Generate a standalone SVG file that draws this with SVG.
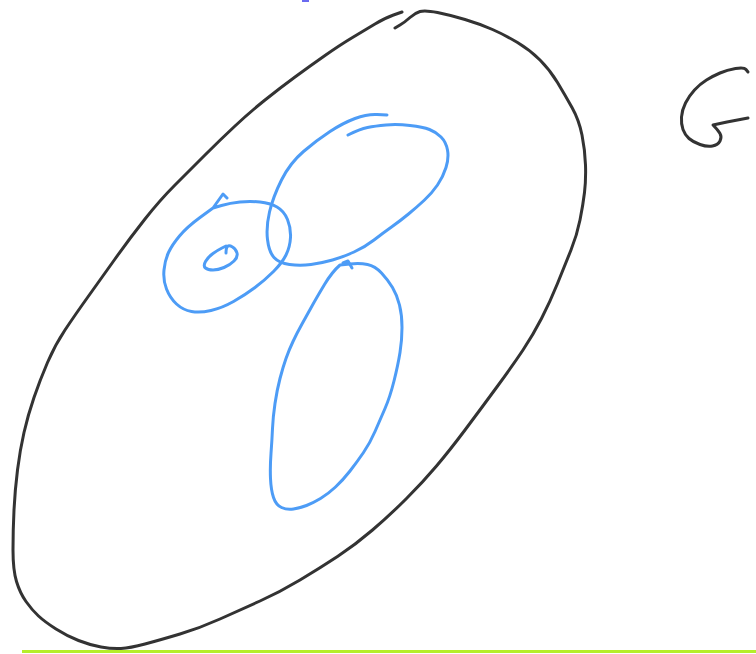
<svg xmlns="http://www.w3.org/2000/svg" width="756" height="654" viewBox="0 0 756 654">
<style>
.ink{fill:none;stroke-linecap:round;stroke-linejoin:round}
.blk{stroke:#333;stroke-width:3}
.blu{stroke:#4d9cf6;stroke-width:3}
</style>
<rect width="756" height="654" fill="#fff"/>
<rect x="302" y="0" width="7" height="2" fill="#6a6af0"/>
<g id="outer">
<path class="ink blk" d="M402,12 L393.5,15 Q385,18 375,24 Q365,30 352.5,37.5 Q340,45 325,55.5 Q310,66 295,77 Q280,88 265,100 Q250,112 235,126 Q220,140 205,155 Q190,170 175,185 Q160,200 145,219 Q130,238 115,259 Q100,280 87.5,297.5 Q75,315 65,330 Q55,345 47.5,362.5 Q40,380 34,397.5 Q28,415 24,432.5 Q20,450 17.5,470 Q15,490 14,510 Q13,530 13,550 Q13,570 16.5,581.5 Q20,593 26,601.5 Q32,610 38.5,616 Q45,622 56,629 Q67,636 78.5,640.5 Q90,645 101,647 Q112,649 121,648.5 Q130,648 145,644 Q160,640 180,634 Q200,628 220,619 Q240,610 260,601 Q280,592 300,580 Q320,568 337.5,556.5 Q355,545 372.5,530 Q390,515 406.5,498.5 Q423,482 436.5,466 Q450,450 465,430 Q480,410 496.5,387.5 Q513,365 523,350 Q533,335 541.5,318.5 Q550,302 557.5,283.5 Q565,265 571,250 Q577,235 580,220 Q583,205 584.5,192.5 Q586,180 585.5,165 Q585,150 582,135 Q579,120 572,107.5 Q565,95 557.5,82.5 Q550,70 540,60 Q530,50 517.5,42.5 Q505,35 492.5,29.5 Q480,24 465,19.5 Q450,15 437.5,12.5 Q425,10 420,11.5 Q415,13 410,17.5 Q405,22 400,25 L395,28"/>
</g>
<g id="left-loop">
<path class="ink blu" d="M227,198 L223,194 L213,208 L221.5,205.5 Q230,203 240,202 Q250,201 260,202 Q270,203 277,207 Q284,211 287.5,219.5 Q291,228 290.5,237.5 Q290,247 286,255 Q282,263 273.5,271.5 Q265,280 255,287.5 Q245,295 233.5,301.5 Q222,308 211,310.5 Q200,313 191.5,311.5 Q183,310 176.5,304 Q170,298 166.5,289 Q163,280 164,270 Q165,260 168.5,252.5 Q172,245 179.5,236 Q187,227 200,217.5 L213,208"/>
<path class="ink blu" d="M226,246 L222,248 Q218,250 213,253.5 Q208,257 205.5,261.5 Q203,266 205.5,268 Q208,270 213,270 Q218,270 224,267.5 Q230,265 234,261 Q238,257 237,253 Q236,249 232.5,247 Q229,245 227.5,246.5 Q226,248 226,253"/>
</g>
<g id="mid-loop">
<path class="ink blu" d="M387,115 L377,114.5 Q367,114 355,118.5 Q343,123 330,131.5 Q317,140 303.5,151.5 Q290,163 281.5,180 Q273,197 269.5,212 Q266,227 267.5,239.5 Q269,252 274,257.5 Q279,263 289.5,264.5 Q300,266 311,264.5 Q322,263 332.5,260 Q343,257 354,252 Q365,247 374,240 Q383,233 391.5,227 Q400,221 408.5,214 Q417,207 424.5,200 Q432,193 437.5,185 Q443,177 446,167.5 Q449,158 447.5,150 Q446,142 441,137 Q436,132 429.5,129.5 Q423,127 410,125.5 Q397,124 386,125 Q375,126 367.5,127.5 Q360,129 348,135"/>
</g>
<g id="low-loop">
<path class="ink blu" d="M340,265 L350,264 Q360,263 367.5,264.5 Q375,266 381.5,273 Q388,280 392.5,287.5 Q397,295 399.5,305 Q402,315 402,327.5 Q402,340 400,352.5 Q398,365 394,381 Q390,397 385,408.5 Q380,420 375,431.5 Q370,443 363.5,452.5 Q357,462 350,471 Q343,480 335.5,487 Q328,494 320.5,498.5 Q313,503 306.5,505.5 Q300,508 293.5,509 Q287,510 281.5,507.5 Q276,505 273.5,497.5 Q271,490 270.5,478.5 Q270,467 271,453.5 Q272,440 272.5,428.5 Q273,417 275,403.5 Q277,390 280,378.5 Q283,367 286,358.5 Q289,350 293,341.5 Q297,333 302,324 Q307,315 312,306 Q317,297 324.5,284.5 Q332,272 340,265"/>
<polyline class="ink blu" points="343,263 348,261 352,268"/>
</g>
<g id="g-letter">
<path class="ink blk" d="M748,72 L746,69.5 Q744,67 735.5,68.5 Q727,70 720,73 Q713,76 706.5,80 Q700,84 694.5,90 Q689,96 685.5,103 Q682,110 681.5,117 Q681,124 683,129.5 Q685,135 689,138.5 Q693,142 700,144.5 Q707,147 712.5,146 Q718,145 720,141 Q722,137 720,133.5 Q718,130 713,125 L727,122 L748,118"/>
</g>
<rect x="22" y="650" width="734" height="3" fill="#b5ee2a"/>
</svg>
